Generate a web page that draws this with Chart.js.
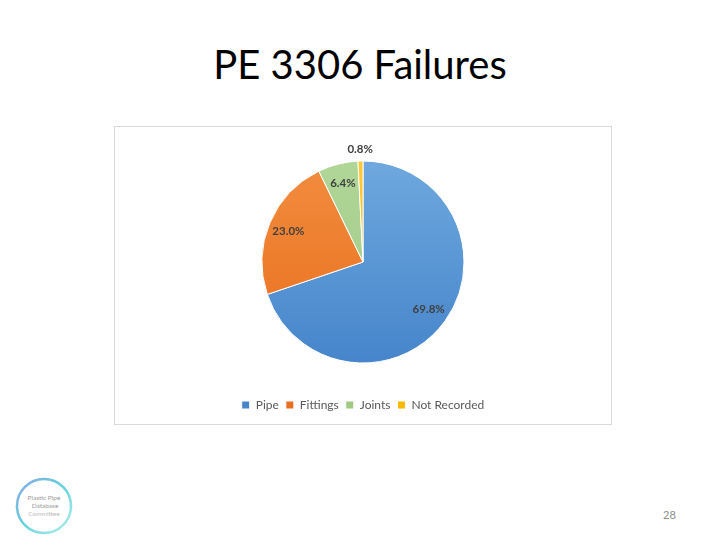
<!DOCTYPE html>
<html>
<head>
<meta charset="utf-8">
<script src="https://cdn.jsdelivr.net/npm/chart.js@4/dist/chart.umd.min.js"></script>
<style>
    body { margin: 0; width: 720px; height: 540px; background: #fff; position: relative; overflow: hidden; font-family: Lato, "Open Sans", sans-serif; }
    #title { position: absolute; left: 0; top: 40px; width: 720px; text-align: center; font-size: 40px; color: #000; }
    #box { position: absolute; left: 114px; top: 126px; width: 496px; height: 297px; border: 1px solid #d9d9d9; }
    #pageNo { position: absolute; left: 663px; top: 508px; font-size: 11px; color: #8c8c8c; }
    #logo { position: absolute; left: 15px; top: 477px; }
</style>
</head>
<body>
<div id="title">PE 3306 Failures</div>
<div id="box"><canvas id="chart" width="496" height="297"></canvas></div>
<div id="pageNo">28</div>
<svg id="logo" width="60" height="60" viewBox="0 0 60 60">
    <defs>
        <linearGradient id="ring" x1="0" y1="0" x2="1" y2="1">
            <stop offset="0" stop-color="#8aa6e6"/>
            <stop offset="0.5" stop-color="#62d3dc"/>
            <stop offset="1" stop-color="#b9eeea"/>
        </linearGradient>
    </defs>
    <circle cx="29" cy="29" r="27" fill="none" stroke="url(#ring)" stroke-width="2.5"/>
    <text x="29" y="23" font-size="6.5" fill="#9a9a9a" text-anchor="middle">Plastic Pipe</text>
    <text x="30" y="31" font-size="6.5" fill="#9a9a9a" text-anchor="middle">Database</text>
    <text x="29" y="39" font-size="6.5" fill="#bbbbbb" text-anchor="middle">Committee</text>
</svg>
<script>
    'use strict';

    const categories = ['Pipe', 'Fittings', 'Joints', 'Not Recorded'];
    const shares = [69.8, 23.0, 6.4, 0.8];
    const colorsLight = ['#6ea8de', '#f28c3f', '#b0d698', '#ffc83a'];
    const colorsDark = ['#4685cb', '#e86f1d', '#a0c983', '#f5b800'];

    /**
     * vertical gradient per slice, lighter at the top like the office theme
     */
    function sliceFill(context) {
        const chart = context.chart;
        const area = chart.chartArea;
        if (!area) {
            return colorsDark[context.dataIndex];
        }
        const cy = (area.top + area.bottom) / 2;
        const g = chart.ctx.createLinearGradient(0, cy - 101, 0, cy + 101);
        g.addColorStop(0, colorsLight[context.dataIndex]);
        g.addColorStop(1, colorsDark[context.dataIndex]);
        return g;
    }

    // percent labels, small slices go outside
    const sliceLabels = {
        id: 'sliceLabels',
        afterDatasetsDraw: function (chart) {
            const ctx = chart.ctx;
            const meta = chart.getDatasetMeta(0);

            ctx.save();
            ctx.font = 'bold 11.5px Lato, sans-serif';
            ctx.fillStyle = '#404040';
            ctx.textAlign = 'center';
            ctx.textBaseline = 'middle';
            meta.data.forEach(function (arc, i) {
                const p = arc.getProps(['x', 'y', 'startAngle', 'endAngle', 'outerRadius'], true);
                const mid = (p.startAngle + p.endAngle) / 2;
                const r = shares[i] < 2 ? p.outerRadius + 12 : p.outerRadius * 0.8;
                ctx.fillText(shares[i].toFixed(1) + '%', p.x + Math.cos(mid) * r, p.y + Math.sin(mid) * r);
            });
            ctx.restore();
        }
    };

    new Chart(document.getElementById('chart'), {
        type: 'pie',
        data: {
            labels: categories,
            datasets: [{
                data: shares,
                backgroundColor: sliceFill,
                borderColor: '#ffffff',
                borderWidth: 1,
                radius: 101
            }]
        },
        options: {
            responsive: false,
            animation: false,
            layout: {
                padding: {top: 5, bottom: 3}
            },
            plugins: {
                legend: {
                    position: 'bottom',
                    labels: {
                        boxWidth: 8,
                        boxHeight: 8,
                        padding: 7,
                        color: '#595959',
                        font: {family: 'Lato, sans-serif', size: 12}
                    }
                },
                tooltip: {enabled: false}
            }
        },
        plugins: [sliceLabels]
    });
</script>
</body>
</html>
